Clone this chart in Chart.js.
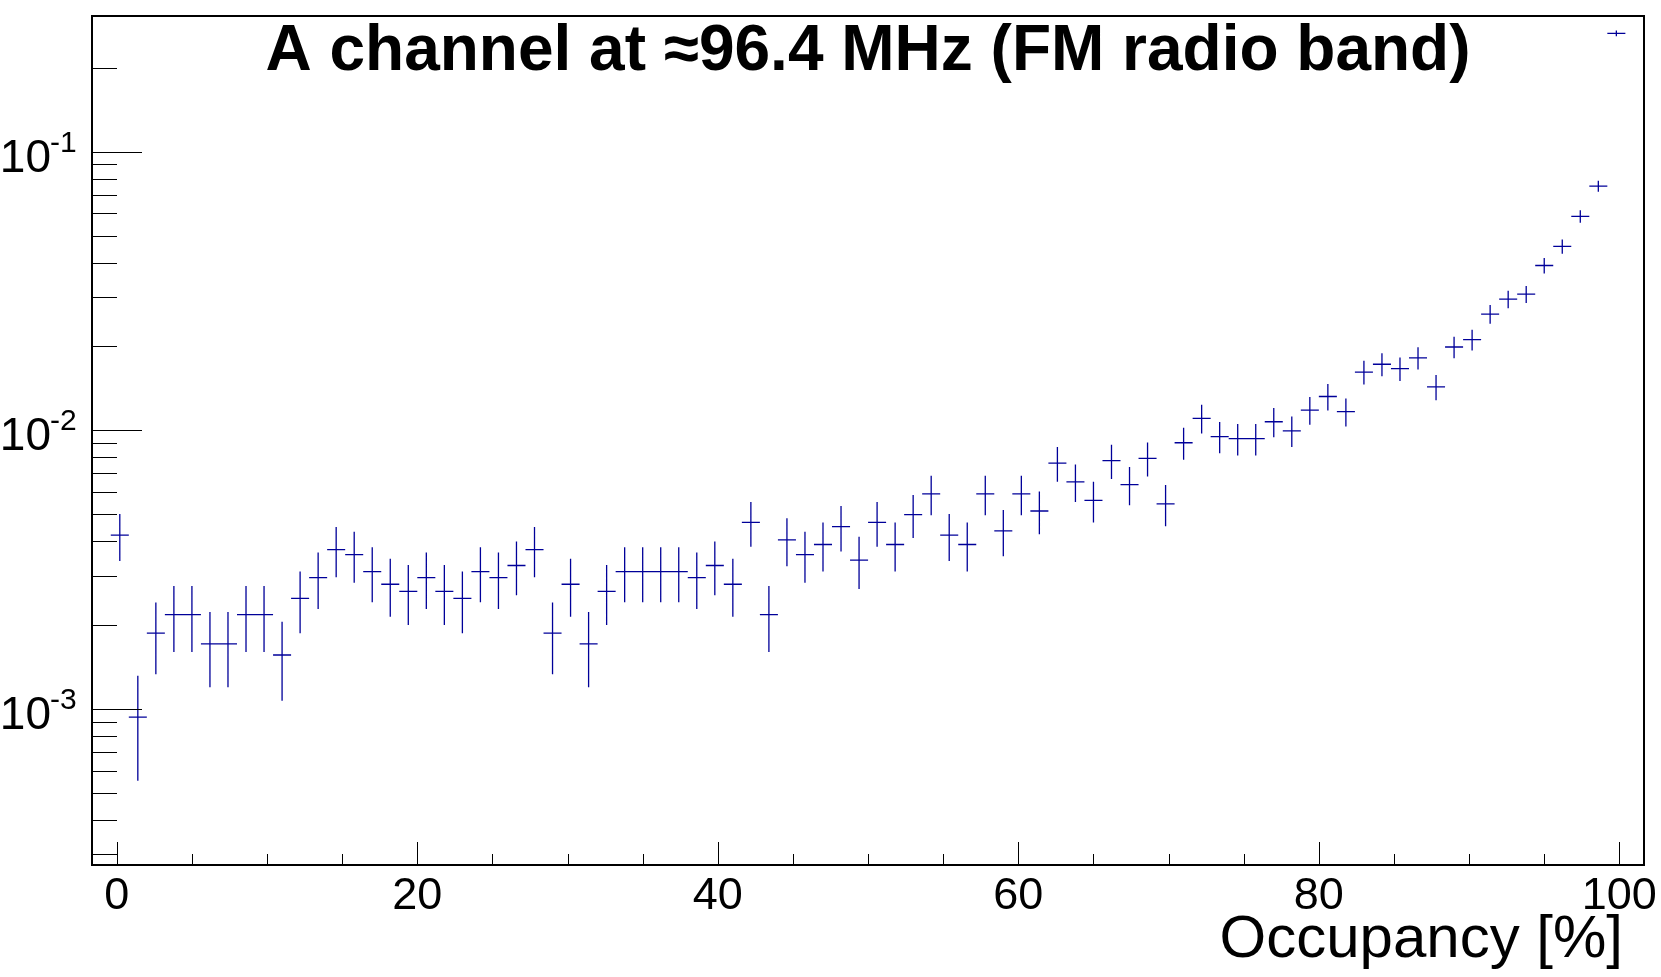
<!DOCTYPE html>
<html lang="en">
<head>
    <meta charset="UTF-8">
    <title>A channel at ≈96.4 MHz (FM radio band)</title>
    <script src="https://cdn.jsdelivr.net/npm/chart.js"></script>
    <style>
        html, body { margin: 0; padding: 0; background: #fff; }
        canvas { display: block; }
    </style>
</head>
<body>
    <canvas id="occChart" width="1661" height="977" style="width:1661px;height:977px"></canvas>

    <script>
        // bin centres (occupancy in %), bins are 1.2 % wide
        const occupancy = [
            0.2, 1.4, 2.6, 3.8, 5.0, 6.2, 7.4, 8.6, 9.8, 11.0, 12.2, 13.4, 14.6, 15.8, 17.0, 18.2, 19.4,
            20.6, 21.8, 23.0, 24.2, 25.4, 26.6, 27.8, 29.0, 30.2, 31.4, 32.6, 33.8, 35.0, 36.2, 37.4, 38.6,
            39.8, 41.0, 42.2, 43.4, 44.6, 45.8, 47.0, 48.2, 49.4, 50.6, 51.8, 53.0, 54.2, 55.4, 56.6, 57.8,
            59.0, 60.2, 61.4, 62.6, 63.8, 65.0, 66.2, 67.4, 68.6, 69.8, 71.0, 72.2, 73.4, 74.6, 75.8, 77.0,
            78.2, 79.4, 80.6, 81.8, 83.0, 84.2, 85.4, 86.6, 87.8, 89.0, 90.2, 91.4, 92.6, 93.8, 95.0, 96.2,
            97.4, 98.6, 99.8
        ];
        const binWidth = 1.2;

        // normalised entries per bin
        const fraction = [
            0.00420, 0.000933, 0.00187, 0.00218, 0.00218, 0.00171, 0.00171, 0.00218, 0.00218, 0.00156,
            0.00249, 0.00296, 0.00373, 0.00358, 0.00311, 0.00280, 0.00264, 0.00296, 0.00264, 0.00249,
            0.00311, 0.00296, 0.00327, 0.00373, 0.00187, 0.00280, 0.00171, 0.00264, 0.00311, 0.00311,
            0.00311, 0.00311, 0.00296, 0.00327, 0.00280, 0.00467, 0.00218, 0.00404, 0.00358, 0.00389,
            0.00451, 0.00342, 0.00467, 0.00389, 0.00498, 0.00591, 0.00420, 0.00389, 0.00591, 0.00435,
            0.00591, 0.00513, 0.00762, 0.00653, 0.00560, 0.00778, 0.00638, 0.00793, 0.00544, 0.00902,
            0.01104, 0.00949, 0.00933, 0.00933, 0.01073, 0.00995, 0.01182, 0.01322, 0.01166, 0.01617,
            0.01726, 0.01664, 0.01819, 0.01431, 0.01990, 0.02115, 0.02612, 0.02955, 0.03079, 0.03903,
            0.04572, 0.05862, 0.07526, 0.2661
        ];

        // statistical error of each bin
        const errors = [
            0.000808, 0.000381, 0.000539, 0.000582, 0.000582, 0.000516, 0.000516, 0.000582, 0.000582, 0.000492,
            0.000622, 0.000678, 0.000762, 0.000746, 0.000695, 0.000660, 0.000641, 0.000678, 0.000641, 0.000622,
            0.000695, 0.000678, 0.000713, 0.000762, 0.000539, 0.000660, 0.000516, 0.000641, 0.000695, 0.000695,
            0.000695, 0.000695, 0.000678, 0.000713, 0.000660, 0.000852, 0.000582, 0.000793, 0.000746, 0.000778,
            0.000837, 0.000729, 0.000852, 0.000778, 0.000880, 0.000959, 0.000808, 0.000778, 0.000959, 0.000823,
            0.000959, 0.000893, 0.001089, 0.001008, 0.000933, 0.001100, 0.000996, 0.001110, 0.000920, 0.001184,
            0.001310, 0.001214, 0.001205, 0.001205, 0.001292, 0.001244, 0.001356, 0.001434, 0.001347, 0.001586,
            0.001638, 0.001609, 0.001682, 0.001492, 0.001759, 0.001813, 0.002015, 0.002143, 0.002188, 0.002464,
            0.002666, 0.003019, 0.003421, 0.006432
        ];

        const xMajorTicks = [0, 20, 40, 60, 80, 100];
        const xTickLabels = ['0', '20', '40', '60', '80', '100'];
        const yMajorTicks = [1e-3, 1e-2, 1e-1];
        const yTickExponents = ['-3', '-2', '-1'];

        const titleText = 'A channel at \u224896.4 MHz (FM radio band)';
        const xTitle = 'Occupancy [%]';

        const FONT = '"Liberation Sans", Arial, Helvetica, sans-serif';
        const markColor = '#000099';

        // ROOT-like frame, inward ticks, labels and error-bar markers
        const rootStyle = {
            id: 'rootStyle',
            afterDatasetsDraw(chart) {
                const c = chart.ctx;
                const a = chart.chartArea;
                const xs = chart.scales.x;
                const ys = chart.scales.y;
                c.save();

                // error bars
                c.strokeStyle = markColor;
                c.lineWidth = 1.3;
                c.beginPath();
                occupancy.forEach((x, i) => {
                    const v = fraction[i], e = errors[i];
                    const px = xs.getPixelForValue(x);
                    const py = ys.getPixelForValue(v);
                    c.moveTo(xs.getPixelForValue(x - binWidth / 2), py);
                    c.lineTo(xs.getPixelForValue(x + binWidth / 2), py);
                    const lo = v - e > ys.min ? ys.getPixelForValue(v - e) : a.bottom;
                    c.moveTo(px, ys.getPixelForValue(v + e));
                    c.lineTo(px, lo);
                });
                c.stroke();

                // ticks
                c.strokeStyle = '#000';
                c.lineWidth = 1;
                c.beginPath();
                for (let t = 0; t <= 100; t += 5) {
                    const px = Math.round(xs.getPixelForValue(t)) + 0.5;
                    const len = t % 20 === 0 ? 23 : 11;
                    c.moveTo(px, a.bottom);
                    c.lineTo(px, a.bottom - len);
                }
                for (let e = -4; e <= 0; e++) {
                    for (let m = 1; m <= 9; m++) {
                        const v = m * Math.pow(10, e);
                        if (v <= ys.min || v >= ys.max) continue;
                        const py = Math.round(ys.getPixelForValue(v)) + 0.5;
                        if (py < a.top + 4 || py > a.bottom - 4) continue;
                        c.moveTo(a.left, py);
                        c.lineTo(a.left + (m === 1 ? 50 : 25), py);
                    }
                }
                c.stroke();

                // frame
                c.lineWidth = 2;
                c.strokeRect(a.left, a.top, a.right - a.left, a.bottom - a.top);

                // x tick labels
                c.fillStyle = '#000';
                c.font = '45px ' + FONT;
                c.textAlign = 'center';
                c.textBaseline = 'alphabetic';
                xMajorTicks.forEach((t, i) => {
                    c.fillText(xTickLabels[i], xs.getPixelForValue(t), 909);
                });

                // y tick labels 10^n
                yMajorTicks.forEach((t, i) => {
                    const py = ys.getPixelForValue(t);
                    c.font = '46px ' + FONT;
                    c.textAlign = 'right';
                    c.fillText('10', 51, py + 20);
                    c.font = '30px ' + FONT;
                    c.textAlign = 'left';
                    c.fillText(yTickExponents[i], 50, py);
                });

                // axis title
                c.font = '60px ' + FONT;
                c.textAlign = 'right';
                c.fillText(xTitle, 1623, 957);

                // title
                c.font = 'bold 64px ' + FONT;
                c.textAlign = 'center';
                c.fillText(titleText, (a.left + a.right) / 2, 70);

                c.restore();
            }
        };

        new Chart(document.getElementById('occChart'), {
            type: 'scatter',
            data: {
                datasets: [{
                    data: occupancy.map((x, i) => ({ x: x, y: fraction[i] })),
                    pointRadius: 0,
                    showLine: false
                }]
            },
            options: {
                responsive: false,
                animation: false,
                devicePixelRatio: 1,
                layout: { padding: { left: 92, right: 17, top: 16, bottom: 112 } },
                plugins: {
                    legend: { display: false },
                    tooltip: { enabled: false },
                    title: { display: false }
                },
                scales: {
                    x: { type: 'linear', min: -1.65, max: 101.64, display: false },
                    y: { type: 'logarithmic', min: 2.75e-4, max: 0.307, display: false }
                }
            },
            plugins: [rootStyle]
        });
    </script>
</body>
</html>
